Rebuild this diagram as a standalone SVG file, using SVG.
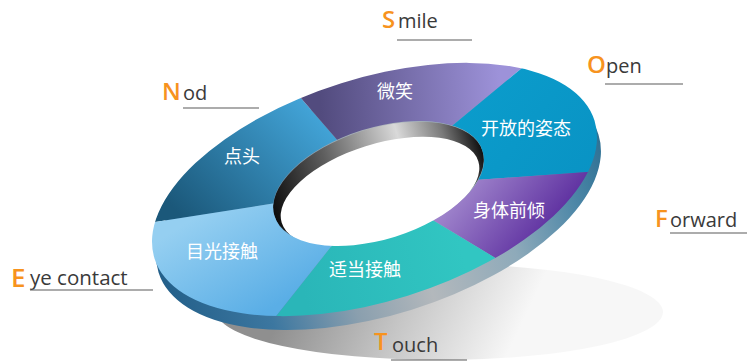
<svg xmlns="http://www.w3.org/2000/svg" width="750" height="362" viewBox="0 0 750 362">
<style>
.cn{font-family:"Noto Sans CJK SC","Noto Sans",sans-serif;font-size:18px;fill:#ffffff;text-anchor:middle}
.big{font-family:"Open Sans","Liberation Sans",sans-serif;font-size:24px;font-weight:600;fill:#f7931e}
.en{font-family:"Open Sans","Liberation Sans",sans-serif;font-size:20px;fill:#3a3a3a}
.ul{stroke:#5a5a5a;stroke-width:1.2;fill:none}
</style>
<defs>
<clipPath id="ring"><path clip-rule="evenodd" d="M154.5,258.4 A230.5,111.3 -17.4 1 1 594.5,120.6 A230.5,111.3 -17.4 1 1 154.5,258.4 Z M274.5,216.1 A109,55 -17.4 1 1 482.5,150.9 A109,55 -17.4 1 1 274.5,216.1 Z"/></clipPath>
<linearGradient id="gShadow" gradientUnits="userSpaceOnUse" x1="300" y1="275" x2="500" y2="370">
<stop offset="0" stop-color="#8f8f8f"/><stop offset="0.5" stop-color="#c6c6c6"/><stop offset="1" stop-color="#f7f7f7"/>
</linearGradient>
<linearGradient id="gSide" gradientUnits="userSpaceOnUse" x1="150" y1="200" x2="610" y2="200">
<stop offset="0" stop-color="#24608a"/><stop offset="0.2" stop-color="#3c77a0"/><stop offset="0.38" stop-color="#8a9fae"/><stop offset="0.55" stop-color="#b3b8bc"/><stop offset="0.75" stop-color="#8eaaba"/><stop offset="0.9" stop-color="#4f88a8"/><stop offset="1" stop-color="#2e7194"/>
</linearGradient>
<linearGradient id="gWall" gradientUnits="userSpaceOnUse" x1="270" y1="0" x2="487" y2="0">
<stop offset="0" stop-color="#0d0d0d"/><stop offset="0.3" stop-color="#5f5f5f"/><stop offset="0.65" stop-color="#d9d9d9"/><stop offset="0.85" stop-color="#7a7a7a"/><stop offset="1" stop-color="#111111"/>
</linearGradient>
<linearGradient id="gNod" gradientUnits="userSpaceOnUse" x1="320" y1="100" x2="190" y2="225">
<stop offset="0" stop-color="#45a9de"/><stop offset="1" stop-color="#1b587a"/>
</linearGradient>
<linearGradient id="gSmile" gradientUnits="userSpaceOnUse" x1="320" y1="100" x2="500" y2="90">
<stop offset="0" stop-color="#524b7e"/><stop offset="1" stop-color="#9d92d9"/>
</linearGradient>
<linearGradient id="gOpen" gradientUnits="userSpaceOnUse" x1="460" y1="80" x2="590" y2="180">
<stop offset="0" stop-color="#0b9dcc"/><stop offset="1" stop-color="#0993c4"/>
</linearGradient>
<linearGradient id="gFwd" gradientUnits="userSpaceOnUse" x1="460" y1="185" x2="540" y2="250">
<stop offset="0" stop-color="#a187cd"/><stop offset="1" stop-color="#5b2c9e"/>
</linearGradient>
<linearGradient id="gTouch" gradientUnits="userSpaceOnUse" x1="300" y1="280" x2="460" y2="240">
<stop offset="0" stop-color="#2ab6b8"/><stop offset="1" stop-color="#31c6c2"/>
</linearGradient>
<linearGradient id="gEye" gradientUnits="userSpaceOnUse" x1="200" y1="215" x2="260" y2="315">
<stop offset="0" stop-color="#95cff1"/><stop offset="1" stop-color="#5aaee6"/>
</linearGradient>
</defs>

<g id="base">
<ellipse cx="440" cy="312" rx="223" ry="48" fill="url(#gShadow)"/>
<ellipse cx="378.5" cy="203.5" rx="230.5" ry="111.3" transform="rotate(-17.4 378.5 203.5)" fill="url(#gSide)"/>
<ellipse cx="378.5" cy="183.5" rx="109" ry="55" transform="rotate(-17.4 378.5 183.5)" fill="url(#gWall)"/>
<ellipse cx="380" cy="192" rx="103" ry="48" transform="rotate(-17.4 380 192)" fill="#ffffff"/>
</g>

<g id="seg-nod">
<polygon points="378,187 -291,292 144,-83" fill="url(#gNod)" clip-path="url(#ring)"/>
<text class="cn" x="242" y="163">点头</text>
</g>
<g id="seg-smile">
<polygon points="378,187 144,-83 810,-170" fill="url(#gSmile)" clip-path="url(#ring)"/>
<text class="cn" x="395" y="98">微笑</text>
</g>
<g id="seg-open">
<polygon points="378,187 810,-170 1008,142" fill="url(#gOpen)" clip-path="url(#ring)"/>
<text class="cn" x="526" y="135">开放的姿态</text>
</g>
<g id="seg-forward">
<polygon points="378,187 1008,142 750,412" fill="url(#gFwd)" clip-path="url(#ring)"/>
<text class="cn" x="509" y="217">身体前倾</text>
</g>
<g id="seg-touch">
<polygon points="378,187 750,412 75,571" fill="url(#gTouch)" clip-path="url(#ring)"/>
<text class="cn" x="365" y="276">适当接触</text>
</g>
<g id="seg-eye">
<polygon points="378,187 75,571 -291,292" fill="url(#gEye)" clip-path="url(#ring)"/>
<text class="cn" x="222" y="258">目光接触</text>
</g>

<g id="label-smile">
<text class="big" x="382" y="28">S</text><text class="en" x="398" y="28">mile</text>
</g>
<g id="label-open">
<text class="big" x="587" y="73">O</text><text class="en" x="606" y="73">pen</text>
</g>
<g id="label-nod">
<text class="big" x="162" y="100">N</text><text class="en" x="183" y="100">od</text>
</g>
<g id="label-forward">
<text class="big" x="655" y="227">F</text><text class="en" x="670" y="227">orward</text>
</g>
<g id="label-eye">
<text class="big" x="11" y="287" style="font-size:26px">E</text><text class="en" x="30" y="285" style="font-size:20.5px">ye contact</text>
</g>
<g id="label-touch">
<text class="big" x="374" y="350">T</text><text class="en" x="392" y="352">ouch</text>
</g>

<g id="connectors">
<line class="ul" x1="397" y1="40" x2="472" y2="40"/>
<line class="ul" x1="605" y1="84" x2="683" y2="84"/>
<line class="ul" x1="183" y1="108" x2="259" y2="108"/>
<line class="ul" x1="670" y1="233" x2="747" y2="233"/>
<line class="ul" x1="30" y1="290" x2="153" y2="290"/>
<line class="ul" x1="391" y1="360" x2="467" y2="360"/>
</g>
</svg>
